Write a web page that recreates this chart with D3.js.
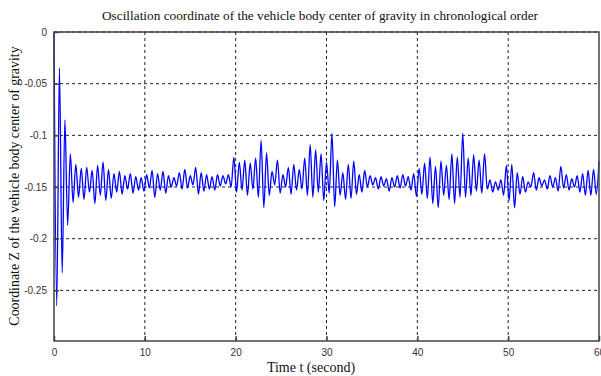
<!DOCTYPE html>
<html lang="en">
<head>
<meta charset="UTF-8">
<title>Oscillation coordinate</title>
<script src="https://d3js.org/d3.v7.min.js"></script>
<style>
  body { margin: 0; background: #fff; }
  svg { display: block; }
  .tick text { font-family: "Liberation Sans", Arial, sans-serif; font-size: 10px; fill: #333; }
  .lbl { font-family: "Liberation Serif", "Times New Roman", serif; fill: #111; }
</style>
</head>
<body>
<svg width="601" height="376"></svg>
<script>
// sample spacing of the trace (seconds) and z values
const dt = 0.3;
const zValues = [
  0,
  -0.265, -0.035, -0.233, -0.085, -0.187, -0.118, -0.165, -0.128, -0.160, -0.132,
  -0.162, -0.131, -0.155, -0.134, -0.166, -0.129, -0.158, -0.126, -0.163, -0.133,
  -0.161, -0.137, -0.155, -0.135, -0.157, -0.139, -0.152, -0.137, -0.156, -0.140,
  -0.153, -0.141, -0.154, -0.138, -0.151, -0.134, -0.160, -0.137, -0.153, -0.135,
  -0.156, -0.139, -0.150, -0.141, -0.149, -0.136, -0.152, -0.133, -0.151, -0.139,
  -0.148, -0.131, -0.157, -0.136, -0.154, -0.138, -0.152, -0.140, -0.153, -0.138,
  -0.149, -0.139, -0.147, -0.138, -0.150, -0.121, -0.155, -0.126, -0.153, -0.124,
  -0.158, -0.127, -0.152, -0.122, -0.160, -0.105, -0.170, -0.117, -0.158, -0.135,
  -0.148, -0.124, -0.156, -0.138, -0.150, -0.131, -0.157, -0.128, -0.153, -0.133,
  -0.152, -0.122, -0.158, -0.109, -0.160, -0.114, -0.155, -0.118, -0.163, -0.126,
  -0.156, -0.098, -0.169, -0.124, -0.158, -0.136, -0.162, -0.128, -0.161, -0.125,
  -0.157, -0.138, -0.155, -0.134, -0.150, -0.139, -0.148, -0.141, -0.152, -0.140,
  -0.149, -0.142, -0.154, -0.141, -0.150, -0.139, -0.151, -0.138, -0.149, -0.140,
  -0.153, -0.137, -0.159, -0.132, -0.157, -0.127, -0.161, -0.121, -0.166, -0.130,
  -0.170, -0.125, -0.158, -0.129, -0.162, -0.118, -0.166, -0.121, -0.160, -0.098,
  -0.160, -0.122, -0.158, -0.119, -0.154, -0.124, -0.156, -0.118, -0.152, -0.143,
  -0.155, -0.145, -0.153, -0.143, -0.158, -0.129, -0.163, -0.128, -0.170, -0.136,
  -0.157, -0.140, -0.155, -0.145, -0.150, -0.136, -0.153, -0.141, -0.149, -0.143,
  -0.152, -0.139, -0.150, -0.141, -0.154, -0.130, -0.151, -0.138, -0.153, -0.142,
  -0.150, -0.139, -0.155, -0.137, -0.158, -0.134, -0.158, -0.133, -0.157, -0.125
];
const xTicks = [0, 10, 20, 30, 40, 50, 60];
const yTicks = [0, -0.05, -0.1, -0.15, -0.2, -0.25];
const yTickLabels = ["0", "-0.05", "-0.1", "-0.15", "-0.2", "-0.25"];

const svg = d3.select("svg");
const plotL = 54, plotR = 599, plotT = 32, plotB = 341;

const x = d3.scaleLinear().domain([0, 60]).range([plotL, plotR]);
const y = d3.scaleLinear().domain([-0.299, 0]).range([plotB, plotT]);

const data = zValues.map((v, i) => ({t: i * dt, z: v}));

// grid
const grid = svg.append("g").attr("stroke", "#222").attr("stroke-width", 1).attr("stroke-dasharray", "3,3");
grid.selectAll(".gx").data(xTicks.slice(1, -1)).enter().append("line")
  .attr("x1", d => x(d)).attr("x2", d => x(d)).attr("y1", plotT).attr("y2", plotB);
grid.selectAll(".gy").data(yTicks).enter().append("line")
  .attr("x1", plotL).attr("x2", plotR).attr("y1", d => y(d)).attr("y2", d => y(d));

// trace
svg.append("path")
  .datum(data)
  .attr("fill", "none")
  .attr("stroke", "#0000ff")
  .attr("stroke-width", 1.3)
  .attr("d", d3.line().curve(d3.curveMonotoneX).x(d => x(d.t)).y(d => y(d.z)));

// axes (ticks pointing inward)
svg.append("g")
  .attr("transform", `translate(0,${plotB})`)
  .call(d3.axisBottom(x).tickValues(xTicks).tickSize(-5).tickPadding(8).tickFormat(d3.format("d")))
  .call(g => g.select(".domain").remove())
  .call(g => g.selectAll(".tick line").attr("stroke", "#444").attr("stroke-width", 1.5));

svg.append("g")
  .attr("transform", `translate(${plotL},0)`)
  .call(d3.axisLeft(y).tickValues(yTicks).tickSize(-5).tickPadding(7).tickFormat((d, i) => yTickLabels[i]))
  .call(g => g.select(".domain").remove())
  .call(g => g.selectAll(".tick line").attr("stroke", "#444").attr("stroke-width", 1.5));

// box
svg.append("rect")
  .attr("x", plotL).attr("y", plotT)
  .attr("width", plotR - plotL).attr("height", plotB - plotT)
  .attr("fill", "none").attr("stroke", "#444").attr("stroke-width", 1.5);

// labels
svg.append("text").attr("class", "lbl")
  .attr("x", 320).attr("y", 20).attr("text-anchor", "middle")
  .style("font-size", "13.3px")
  .text("Oscillation coordinate of the vehicle body center of gravity in chronological order");

svg.append("text").attr("class", "lbl")
  .attr("x", 311).attr("y", 372).attr("text-anchor", "middle")
  .style("font-size", "14px")
  .text("Time t (second)");

svg.append("text").attr("class", "lbl")
  .attr("transform", "translate(19,186) rotate(-90)")
  .attr("text-anchor", "middle")
  .style("font-size", "13.9px")
  .text("Coordinate Z of the vehicle body center of gravity");
</script>
</body>
</html>
